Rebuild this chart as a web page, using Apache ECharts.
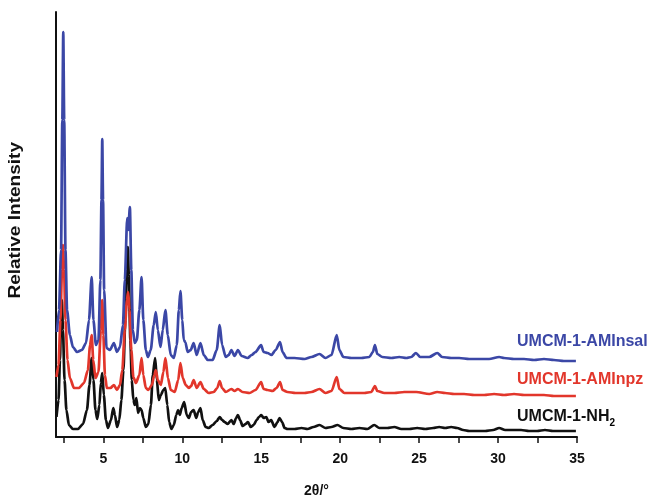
<!DOCTYPE html>
<html>
<head>
<meta charset="utf-8">
<script src="https://cdn.jsdelivr.net/npm/echarts@6/dist/echarts.min.js"></script>
<style>
  html, body { margin: 0; padding: 0; background: #fff; }
  #main { width: 648px; height: 497px; }
</style>
</head>
<body>
<div id="main"></div>
<script>
// 2theta positions and relative intensity (stacked, arbitrary units) for each pattern
const thetaNH2 = [2.03, 2.16, 2.25, 2.32, 2.37, 2.44, 2.54, 2.66, 2.82, 3.07, 3.39, 3.71, 3.96, 4.12, 4.26, 4.37, 4.50, 4.61, 4.75, 4.84,
  4.93, 5.03, 5.16, 5.29, 5.48, 5.63, 5.73, 5.87, 6.01, 6.14, 6.27, 6.39, 6.49, 6.55, 6.61, 6.71, 6.80, 6.90, 6.99, 7.09,
  7.20, 7.31, 7.42, 7.53, 7.69, 7.85, 8.01, 8.13, 8.28, 8.39, 8.51, 8.64, 8.80, 8.92, 9.05, 9.17, 9.31, 9.46, 9.62, 9.73,
  9.84, 9.96, 10.12, 10.28, 10.41, 10.56, 10.72, 10.88, 11.01, 11.15, 11.29, 11.48, 11.67, 11.92, 12.18, 12.37, 12.52, 12.68, 12.87, 13.11,
  13.25, 13.41, 13.52, 13.66, 13.82, 14.01, 14.16, 14.33, 14.52, 14.71, 14.86, 15.00, 15.15, 15.32, 15.46, 15.63, 15.84, 16.03, 16.16, 16.32,
  16.48, 16.66, 17.11, 17.55, 17.93, 18.31, 18.69, 19.07, 19.45, 19.83, 20.20, 20.71, 21.22, 21.72, 22.16, 22.48, 22.99, 23.43, 23.87, 24.38,
  24.88, 25.39, 25.89, 26.27, 26.65, 27.03, 27.41, 27.79, 28.17, 28.68, 29.18, 29.69, 30.07, 30.45, 30.95, 31.46, 31.96, 32.47, 32.97, 33.48,
  33.98, 34.49, 34.93];
const intensityNH2 = [20, 37, 77, 117, 137, 107, 57, 27, 12, 8, 8, 13, 27, 52, 79, 57, 27, 18, 32, 54,
  64, 42, 17, 9, 17, 29, 22, 10, 17, 37, 67, 117, 167, 190, 162, 97, 57, 37, 32, 39,
  24, 29, 27, 19, 10, 13, 32, 62, 79, 57, 37, 42, 47, 49, 32, 15, 8, 12, 22, 27,
  22, 29, 35, 22, 19, 25, 27, 19, 25, 29, 17, 10, 9, 12, 16, 20, 17, 15, 13, 17,
  13, 19, 22, 17, 11, 13, 15, 10, 12, 17, 20, 22, 19, 20, 15, 17, 10, 15, 19, 15,
  9, 8, 8, 9, 8, 10, 12, 9, 10, 12, 9, 8, 9, 8, 12, 9, 9, 10, 8, 8,
  9, 8, 9, 10, 9, 10, 9, 7, 6, 6, 6, 7, 9, 7, 7, 7, 6, 6, 7, 6,
  6, 6, 6];

const thetaAMInpz = [2.03, 2.16, 2.28, 2.38, 2.44, 2.51, 2.60, 2.73, 2.88, 3.14, 3.45, 3.77, 4.02, 4.16, 4.26, 4.36, 4.50, 4.69, 4.84, 4.93,
  5.00, 5.10, 5.22, 5.45, 5.67, 5.86, 6.05, 6.20, 6.36, 6.49, 6.57, 6.66, 6.77, 6.90, 7.06, 7.28, 7.42, 7.53, 7.69, 7.85,
  8.07, 8.23, 8.32, 8.45, 8.64, 8.80, 8.93, 9.09, 9.27, 9.52, 9.74, 9.88, 10.03, 10.22, 10.41, 10.56, 10.72, 10.91, 11.15, 11.36,
  11.67, 11.99, 12.21, 12.37, 12.52, 12.75, 13.11, 13.31, 13.52, 13.82, 14.26, 14.64, 14.99, 15.15, 15.40, 15.72, 15.97, 16.19, 16.35, 16.66,
  17.17, 17.74, 18.18, 18.69, 19.07, 19.45, 19.78, 19.95, 20.27, 20.90, 21.53, 21.97, 22.20, 22.35, 22.80, 23.43, 24.06, 24.82, 25.64, 26.15,
  26.65, 27.22, 27.85, 28.49, 29.12, 29.75, 30.38, 31.01, 31.65, 32.28, 32.91, 33.54, 34.17, 34.93];
const intensityAMInpz = [60, 72, 117, 167, 192, 167, 117, 77, 59, 49, 49, 54, 67, 92, 102, 77, 59, 65, 107, 137,
  102, 62, 49, 49, 52, 47, 52, 67, 107, 137, 145, 127, 87, 60, 54, 62, 79, 62, 49, 47,
  52, 62, 67, 57, 52, 65, 79, 59, 47, 45, 57, 74, 59, 52, 49, 51, 57, 49, 55, 48,
  44, 45, 49, 56, 49, 45, 48, 46, 48, 45, 44, 47, 55, 48, 47, 46, 49, 55, 47, 45,
  44, 44, 45, 48, 44, 46, 60, 48, 44, 44, 44, 45, 51, 46, 44, 44, 45, 45, 43, 45,
  44, 43, 43, 42, 42, 43, 42, 43, 42, 42, 42, 41, 41, 41];

const thetaAMInsal = [2.06, 2.19, 2.32, 2.40, 2.46, 2.52, 2.60, 2.70, 2.88, 3.07, 3.33, 3.64, 3.90, 4.09, 4.26, 4.37, 4.53, 4.69, 4.81, 4.88,
  4.93, 4.98, 5.05, 5.20, 5.41, 5.67, 5.86, 6.05, 6.24, 6.36, 6.51, 6.58, 6.68, 6.77, 6.87, 6.99, 7.12, 7.28, 7.42, 7.53,
  7.69, 7.82, 8.00, 8.19, 8.32, 8.45, 8.62, 8.76, 8.93, 9.08, 9.27, 9.46, 9.65, 9.78, 9.88, 10.00, 10.09, 10.19, 10.34, 10.53,
  10.72, 10.91, 11.15, 11.36, 11.61, 11.92, 12.18, 12.37, 12.52, 12.75, 12.94, 13.11, 13.31, 13.52, 13.76, 14.14, 14.39, 14.64, 14.99, 15.15,
  15.40, 15.65, 15.91, 16.19, 16.35, 16.60, 17.11, 17.74, 18.18, 18.69, 19.07, 19.45, 19.78, 19.95, 20.20, 20.71, 21.34, 21.85, 22.07, 22.20,
  22.35, 22.67, 23.24, 23.74, 24.19, 24.50, 24.80, 25.07, 25.64, 26.15, 26.46, 27.03, 27.54, 28.17, 28.80, 29.43, 30.07, 30.38, 31.01, 31.65,
  32.28, 32.91, 33.54, 34.17, 34.93];
const intensityAMInsal = [105, 127, 187, 317, 405, 317, 187, 127, 102, 90, 85, 87, 94, 117, 160, 117, 92, 97, 157, 237,
  298, 237, 147, 89, 87, 94, 85, 90, 112, 157, 219, 207, 230, 167, 107, 94, 97, 127, 160, 117,
  87, 80, 87, 112, 125, 107, 90, 107, 127, 102, 82, 79, 92, 127, 146, 117, 97, 95, 85, 87,
  94, 82, 94, 82, 77, 77, 87, 112, 92, 80, 82, 87, 81, 87, 81, 79, 82, 85, 92, 85,
  84, 82, 87, 95, 85, 79, 79, 78, 80, 83, 79, 82, 102, 87, 80, 79, 79, 80, 85, 92,
  83, 80, 79, 80, 79, 80, 84, 80, 80, 84, 80, 79, 79, 78, 78, 78, 80, 79, 78, 78,
  77, 78, 77, 76, 76];

const xTicks = [2.5, 5, 7.5, 10, 12.5, 15, 17.5, 20, 22.5, 25, 27.5, 30, 32.5, 35];
const xLabels = [5, 10, 15, 20, 25, 30, 35];

function pairs(xs, ys) {
  return xs.map(function (x, i) { return [x, ys[i]]; });
}

var chart = echarts.init(document.getElementById('main'));
var font = 'Arial, "Liberation Sans", sans-serif';

function lineSeries(name, xs, ys, color) {
  return {
    name: name,
    type: 'line',
    data: pairs(xs, ys),
    showSymbol: false,
    smooth: 0.25,
    smoothMonotone: 'x',
    lineStyle: { color: color, width: 2.7, join: 'round' },
    animation: false
  };
}

var option = {
  backgroundColor: '#ffffff',
  animation: false,
  grid: { left: 56, right: 71, top: 12, bottom: 60, containLabel: false, outerBoundsMode: 'none' },
  xAxis: {
    type: 'value',
    min: 2,
    max: 35,
    name: '2θ/°',
    nameLocation: 'middle',
    nameGap: 47,
    nameTextStyle: { fontFamily: font, fontWeight: 'bold', fontSize: 14, color: '#111' },
    axisLine: { onZero: false, lineStyle: { color: '#111', width: 2 } },
    axisTick: { show: true, inside: false, length: 6, customValues: xTicks, lineStyle: { color: '#111', width: 1.5 } },
    axisLabel: { customValues: xLabels, fontFamily: font, fontWeight: 'bold', fontSize: 14, color: '#111', margin: 15 },
    splitLine: { show: false }
  },
  yAxis: {
    type: 'value',
    min: 0,
    max: 425,
    axisLine: { show: true, lineStyle: { color: '#111', width: 2 } },
    axisTick: { show: false },
    axisLabel: { show: false },
    splitLine: { show: false }
  },
  graphic: [
    {
      type: 'text', left: 7, top: 142, rotation: Math.PI / 2, scaleX: 1.12,
      style: { text: 'Relative Intensity', fontFamily: font, fontWeight: 'bold', fontSize: 17, fill: '#111' }
    },
    {
      type: 'text', left: 517, top: 334,
      style: { text: 'UMCM-1-AMInsal', fontFamily: font, fontWeight: 'bold', fontSize: 16, fill: '#3b47a6' }
    },
    {
      type: 'text', left: 517, top: 372,
      style: { text: 'UMCM-1-AMInpz', fontFamily: font, fontWeight: 'bold', fontSize: 16, fill: '#e2362b' }
    },
    {
      type: 'text', left: 517, top: 409,
      style: {
        text: '{a|UMCM-1-NH}{b|2}',
        rich: {
          a: { fontFamily: font, fontWeight: 'bold', fontSize: 16, fill: '#111', color: '#111' },
          b: { fontFamily: font, fontWeight: 'bold', fontSize: 10, color: '#111', padding: [12, 0, 0, 0] }
        }
      }
    }
  ],
  series: [
    lineSeries('UMCM-1-NH2', thetaNH2, intensityNH2, '#111111'),
    lineSeries('UMCM-1-AMInpz', thetaAMInpz, intensityAMInpz, '#e2362b'),
    lineSeries('UMCM-1-AMInsal', thetaAMInsal, intensityAMInsal, '#3b47a6')
  ]
};
chart.setOption(option);
</script>
</body>
</html>
